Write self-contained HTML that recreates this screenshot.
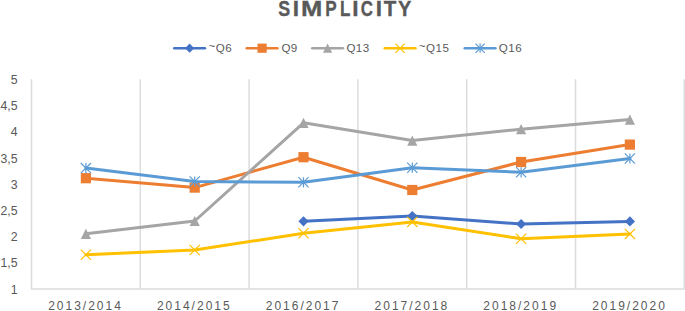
<!DOCTYPE html><html><head><meta charset="utf-8"><style>html,body{margin:0;padding:0;background:#fff;width:685px;height:311px;overflow:hidden}svg{display:block}text{font-family:"Liberation Sans",sans-serif;fill:#595959}</style></head><body>
<svg width="685" height="311" viewBox="0 0 685 311">
<path d="M140.30 79.2V288.8M249.10 79.2V288.8M357.90 79.2V288.8M466.70 79.2V288.8M575.50 79.2V288.8M684.30 79.2V288.8" stroke="#DCDCDC" stroke-width="1.5" fill="none"/>
<path d="M31.50 79.2V289.0H684.90" stroke="#DCDCDC" stroke-width="1.5" fill="none"/>
<text x="17.5" y="83.8" font-size="12.3" text-anchor="end">5</text>
<text x="17.5" y="110.0" font-size="12.3" text-anchor="end">4,5</text>
<text x="17.5" y="136.2" font-size="12.3" text-anchor="end">4</text>
<text x="17.5" y="162.5" font-size="12.3" text-anchor="end">3,5</text>
<text x="17.5" y="188.7" font-size="12.3" text-anchor="end">3</text>
<text x="17.5" y="214.9" font-size="12.3" text-anchor="end">2,5</text>
<text x="17.5" y="241.2" font-size="12.3" text-anchor="end">2</text>
<text x="17.5" y="267.4" font-size="12.3" text-anchor="end">1,5</text>
<text x="17.5" y="293.6" font-size="12.3" text-anchor="end">1</text>
<text x="85.5" y="310.0" font-size="12" letter-spacing="2.0" text-anchor="middle">2013/2014</text>
<text x="194.3" y="310.0" font-size="12" letter-spacing="2.0" text-anchor="middle">2014/2015</text>
<text x="303.1" y="310.0" font-size="12" letter-spacing="2.0" text-anchor="middle">2016/2017</text>
<text x="411.9" y="310.0" font-size="12" letter-spacing="2.0" text-anchor="middle">2017/2018</text>
<text x="520.7" y="310.0" font-size="12" letter-spacing="2.0" text-anchor="middle">2018/2019</text>
<text x="629.5" y="310.0" font-size="12" letter-spacing="2.0" text-anchor="middle">2019/2020</text>
<path d="M303.50 221.30L412.30 216.00L521.10 224.00L629.90 221.40" stroke="#4472C4" stroke-width="3" fill="none" stroke-linejoin="round" stroke-linecap="round"/>
<path d="M303.50 216.20L308.60 221.30L303.50 226.40L298.40 221.30Z" fill="#4472C4"/>
<path d="M412.30 210.90L417.40 216.00L412.30 221.10L407.20 216.00Z" fill="#4472C4"/>
<path d="M521.10 218.90L526.20 224.00L521.10 229.10L516.00 224.00Z" fill="#4472C4"/>
<path d="M629.90 216.30L635.00 221.40L629.90 226.50L624.80 221.40Z" fill="#4472C4"/>
<path d="M85.90 178.20L194.70 187.60L303.50 157.20L412.30 190.00L521.10 162.00L629.90 144.60" stroke="#ED7D31" stroke-width="3" fill="none" stroke-linejoin="round" stroke-linecap="round"/>
<rect x="80.80" y="173.10" width="10.20" height="10.20" fill="#ED7D31"/>
<rect x="189.60" y="182.50" width="10.20" height="10.20" fill="#ED7D31"/>
<rect x="298.40" y="152.10" width="10.20" height="10.20" fill="#ED7D31"/>
<rect x="407.20" y="184.90" width="10.20" height="10.20" fill="#ED7D31"/>
<rect x="516.00" y="156.90" width="10.20" height="10.20" fill="#ED7D31"/>
<rect x="624.80" y="139.50" width="10.20" height="10.20" fill="#ED7D31"/>
<path d="M85.90 233.80L194.70 221.00L303.50 122.80L412.30 140.60L521.10 129.20L629.90 119.60" stroke="#A5A5A5" stroke-width="3" fill="none" stroke-linejoin="round" stroke-linecap="round"/>
<path d="M85.90 228.70L91.00 238.90L80.80 238.90Z" fill="#A5A5A5"/>
<path d="M194.70 215.90L199.80 226.10L189.60 226.10Z" fill="#A5A5A5"/>
<path d="M303.50 117.70L308.60 127.90L298.40 127.90Z" fill="#A5A5A5"/>
<path d="M412.30 135.50L417.40 145.70L407.20 145.70Z" fill="#A5A5A5"/>
<path d="M521.10 124.10L526.20 134.30L516.00 134.30Z" fill="#A5A5A5"/>
<path d="M629.90 114.50L635.00 124.70L624.80 124.70Z" fill="#A5A5A5"/>
<path d="M85.90 254.70L194.70 250.00L303.50 233.30L412.30 221.90L521.10 238.70L629.90 233.90" stroke="#FFC000" stroke-width="3" fill="none" stroke-linejoin="round" stroke-linecap="round"/>
<path d="M80.80 249.60L91.00 259.80M91.00 249.60L80.80 259.80" stroke="#FFC000" stroke-width="1.2" fill="none"/>
<path d="M189.60 244.90L199.80 255.10M199.80 244.90L189.60 255.10" stroke="#FFC000" stroke-width="1.2" fill="none"/>
<path d="M298.40 228.20L308.60 238.40M308.60 228.20L298.40 238.40" stroke="#FFC000" stroke-width="1.2" fill="none"/>
<path d="M407.20 216.80L417.40 227.00M417.40 216.80L407.20 227.00" stroke="#FFC000" stroke-width="1.2" fill="none"/>
<path d="M516.00 233.60L526.20 243.80M526.20 233.60L516.00 243.80" stroke="#FFC000" stroke-width="1.2" fill="none"/>
<path d="M624.80 228.80L635.00 239.00M635.00 228.80L624.80 239.00" stroke="#FFC000" stroke-width="1.2" fill="none"/>
<path d="M85.90 168.10L194.70 181.50L303.50 182.30L412.30 167.70L521.10 172.30L629.90 158.50" stroke="#5B9BD5" stroke-width="3" fill="none" stroke-linejoin="round" stroke-linecap="round"/>
<path d="M80.80 163.00L91.00 173.20M91.00 163.00L80.80 173.20M85.90 163.00L85.90 173.20" stroke="#5B9BD5" stroke-width="1.2" fill="none"/>
<path d="M189.60 176.40L199.80 186.60M199.80 176.40L189.60 186.60M194.70 176.40L194.70 186.60" stroke="#5B9BD5" stroke-width="1.2" fill="none"/>
<path d="M298.40 177.20L308.60 187.40M308.60 177.20L298.40 187.40M303.50 177.20L303.50 187.40" stroke="#5B9BD5" stroke-width="1.2" fill="none"/>
<path d="M407.20 162.60L417.40 172.80M417.40 162.60L407.20 172.80M412.30 162.60L412.30 172.80" stroke="#5B9BD5" stroke-width="1.2" fill="none"/>
<path d="M516.00 167.20L526.20 177.40M526.20 167.20L516.00 177.40M521.10 167.20L521.10 177.40" stroke="#5B9BD5" stroke-width="1.2" fill="none"/>
<path d="M624.80 153.40L635.00 163.60M635.00 153.40L624.80 163.60M629.90 153.40L629.90 163.60" stroke="#5B9BD5" stroke-width="1.2" fill="none"/>
<text transform="scale(0.7902,1)" x="352.22" y="15.9" font-size="22.6" font-weight="bold" stroke="#595959" stroke-width="0.35">S</text><text transform="scale(1.0000,1)" x="292.81" y="15.9" font-size="22.6" font-weight="bold" stroke="#595959" stroke-width="0.35">I</text><text transform="scale(1.1327,1)" x="265.85" y="15.9" font-size="22.6" font-weight="bold" stroke="#595959" stroke-width="0.35">M</text><text transform="scale(0.7584,1)" x="428.79" y="15.9" font-size="22.6" font-weight="bold" stroke="#595959" stroke-width="0.35">P</text><text transform="scale(0.7500,1)" x="453.36" y="15.9" font-size="22.6" font-weight="bold" stroke="#595959" stroke-width="0.35">L</text><text transform="scale(1.0000,1)" x="352.16" y="15.9" font-size="22.6" font-weight="bold" stroke="#595959" stroke-width="0.35">I</text><text transform="scale(0.7500,1)" x="481.15" y="15.9" font-size="22.6" font-weight="bold" stroke="#595959" stroke-width="0.35">C</text><text transform="scale(1.0000,1)" x="375.76" y="15.9" font-size="22.6" font-weight="bold" stroke="#595959" stroke-width="0.35">I</text><text transform="scale(0.9092,1)" x="422.15" y="15.9" font-size="22.6" font-weight="bold" stroke="#595959" stroke-width="0.35">T</text><text transform="scale(0.8866,1)" x="448.78" y="15.9" font-size="22.6" font-weight="bold" stroke="#595959" stroke-width="0.35">Y</text>
<path d="M174.3 48.2H204.9" stroke="#4472C4" stroke-width="2.6" stroke-linecap="round"/>
<path d="M189.60 43.60L194.20 48.20L189.60 52.80L185.00 48.20Z" fill="#4472C4"/>
<text x="208.6" y="52" font-size="11.6" letter-spacing="0.45"><tspan dy="-2.0">~</tspan><tspan dy="2.0">Q6</tspan></text>
<path d="M246.8 48.2H277.4" stroke="#ED7D31" stroke-width="2.6" stroke-linecap="round"/>
<rect x="257.50" y="43.60" width="9.20" height="9.20" fill="#ED7D31"/>
<text x="281.4" y="52" font-size="11.6" letter-spacing="0.45">Q9</text>
<path d="M312.3 48.2H342.9" stroke="#A5A5A5" stroke-width="2.6" stroke-linecap="round"/>
<path d="M327.60 43.60L332.20 52.80L323.00 52.80Z" fill="#A5A5A5"/>
<text x="346.4" y="52" font-size="11.6" letter-spacing="0.45">Q13</text>
<path d="M384.8 48.2H415.4" stroke="#FFC000" stroke-width="2.6" stroke-linecap="round"/>
<path d="M395.50 43.60L404.70 52.80M404.70 43.60L395.50 52.80" stroke="#FFC000" stroke-width="1.2" fill="none"/>
<text x="418.8" y="52" font-size="11.6" letter-spacing="0.45"><tspan dy="-2.0">~</tspan><tspan dy="2.0">Q15</tspan></text>
<path d="M464.8 48.2H495.4" stroke="#5B9BD5" stroke-width="2.6" stroke-linecap="round"/>
<path d="M475.50 43.60L484.70 52.80M484.70 43.60L475.50 52.80M480.10 43.60L480.10 52.80" stroke="#5B9BD5" stroke-width="1.2" fill="none"/>
<text x="498.8" y="52" font-size="11.6" letter-spacing="0.45">Q16</text>
</svg></body></html>
